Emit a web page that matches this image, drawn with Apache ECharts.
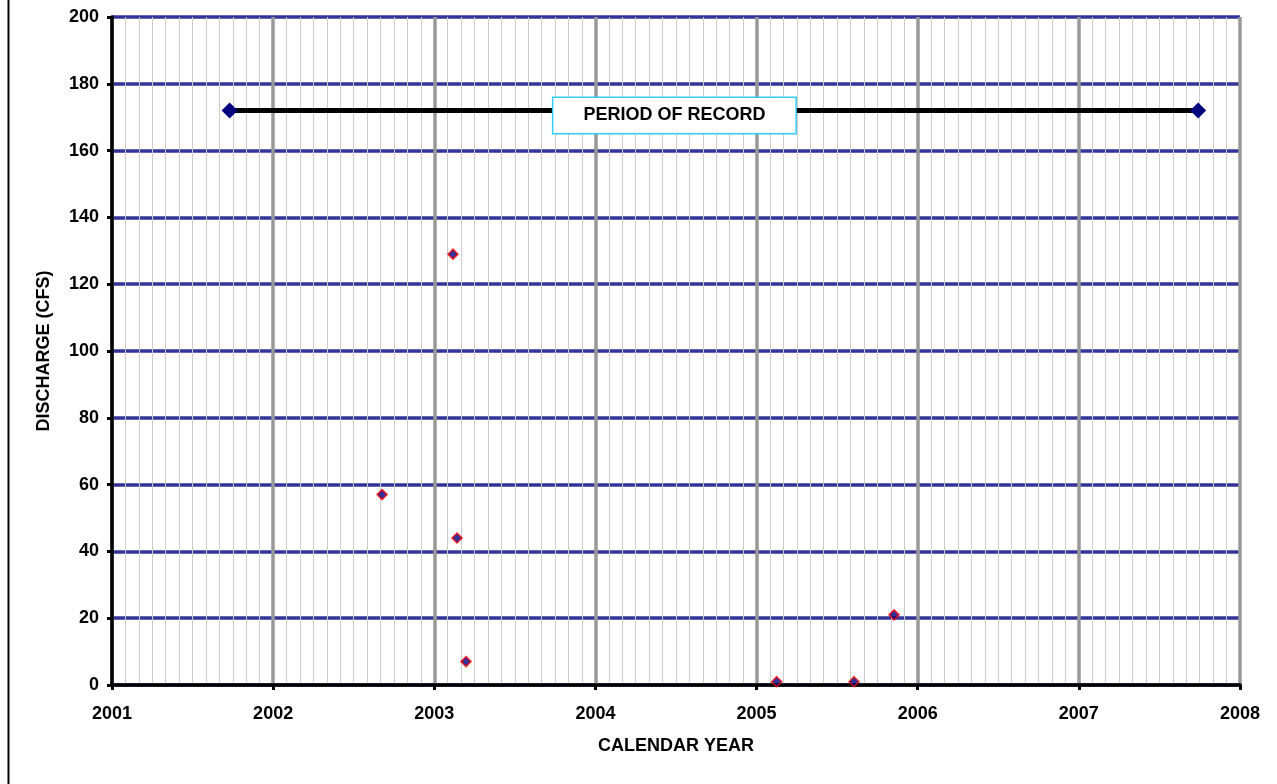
<!DOCTYPE html>
<html>
<head>
<meta charset="utf-8">
<script src="https://cdn.jsdelivr.net/npm/echarts@6/dist/echarts.min.js"></script>
<style>html,body{margin:0;padding:0;background:#fff}#c{width:1277px;height:784px}</style>
</head>
<body>
<div id="c"></div>
<script>
// Data
const yearTicks = [2001, 2002, 2003, 2004, 2005, 2006, 2007, 2008];
const periodYears = [2001.73, 2007.74];
const periodValue = 172;
const periodLabel = 'PERIOD OF RECORD';
const periodLabelYear = 2004.49;
const sampleYears = [2002.676, 2003.116, 2003.141, 2003.197, 2005.125, 2005.605, 2005.853];
const sampleDischarge = [57, 129, 44, 7, 1, 1, 21];

const font = 'Arial, "Liberation Sans", sans-serif';
const chart = echarts.init(document.getElementById('c'), null, {renderer: 'canvas'});
chart.setOption({
  backgroundColor: '#fff',
  animation: false,
  grid: {left: 112, right: 37, top: 17, bottom: 99, containLabel: false},
  xAxis: {
    type: 'value', min: yearTicks[0], max: yearTicks[yearTicks.length - 1], interval: 1,
    name: 'CALENDAR YEAR', nameLocation: 'middle', nameGap: 52,
    nameTextStyle: {fontFamily: font, fontWeight: 'bold', fontSize: 18, color: '#000'},
    axisLine: {show: true, onZero: false, lineStyle: {color: '#000', width: 3.5}},
    axisTick: {show: true, length: 5, lineStyle: {color: '#000', width: 3}},
    axisLabel: {fontFamily: font, fontWeight: 'bold', fontSize: 18, color: '#000', margin: 20,
      formatter: v => String(Math.round(v))},
    splitLine: {show: true, lineStyle: {color: '#999', width: 3.5}},
    minorTick: {show: false, splitNumber: 12},
    minorSplitLine: {show: true, lineStyle: {color: '#cccccc', width: 1}}
  },
  yAxis: {
    type: 'value', min: 0, max: 200, interval: 20,
    name: 'DISCHARGE (CFS)', nameLocation: 'middle', nameGap: 59,
    nameTextStyle: {fontFamily: font, fontWeight: 'bold', fontSize: 18, color: '#000'},
    axisLine: {show: true, lineStyle: {color: '#000', width: 3.5}},
    axisTick: {show: true, length: 5, lineStyle: {color: '#000', width: 3}},
    axisLabel: {fontFamily: font, fontWeight: 'bold', fontSize: 18, color: '#000', margin: 13},
    splitLine: {show: true, lineStyle: {color: '#333399', width: 3.5}}
  },
  series: [
    {
      type: 'line',
      data: periodYears.map(x => [x, periodValue]),
      symbol: 'diamond', symbolSize: 16,
      itemStyle: {color: '#000080'},
      lineStyle: {color: '#000', width: 5},
      z: 3,
      markPoint: {
        symbol: 'rect', symbolSize: 1,
        itemStyle: {color: 'rgba(0,0,0,0)'},
        label: {show: true, position: 'inside', formatter: periodLabel, offset: [0, 5],
          fontFamily: font, fontWeight: 'bold', fontSize: 18, color: '#000',
          backgroundColor: '#fff', borderColor: '#33ccff', borderWidth: 1.5,
          padding: [9, 30, 8, 30]},
        data: [{coord: [periodLabelYear, periodValue]}]
      }
    },
    {
      type: 'scatter',
      data: sampleYears.map((x, i) => [x, sampleDischarge[i]]),
      symbol: 'diamond', symbolSize: 10,
      itemStyle: {color: '#000080', borderColor: '#ff0000', borderWidth: 1.5},
      z: 4
    }
  ],
  graphic: [
    {type: 'line', shape: {x1: 8.5, y1: 0, x2: 8.5, y2: 784}, style: {stroke: '#000', lineWidth: 2}}
  ]
});
</script>
</body>
</html>
